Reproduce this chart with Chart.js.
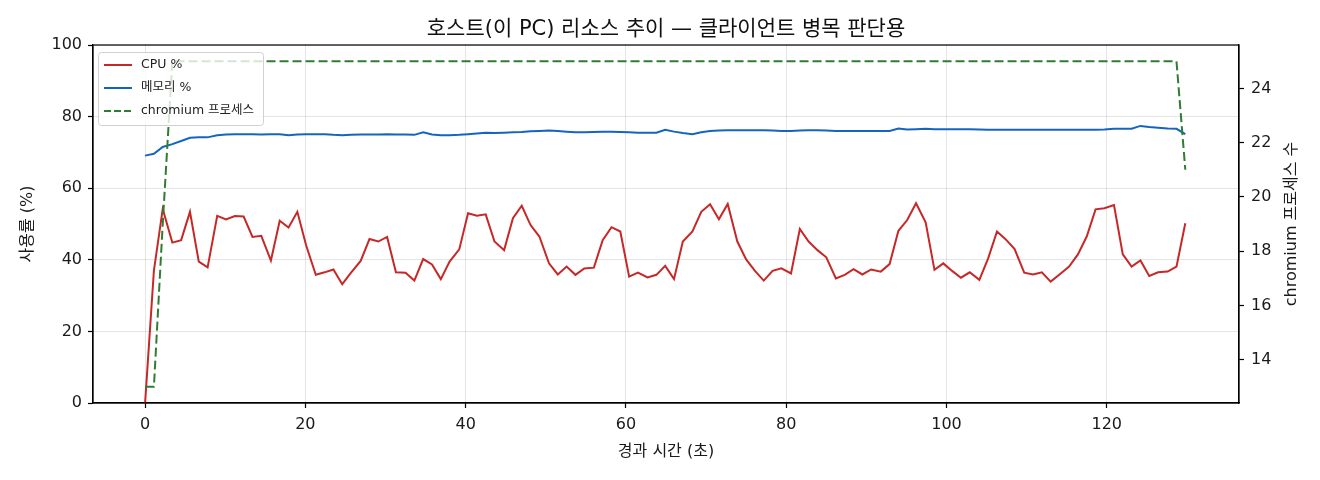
<!DOCTYPE html>
<html><head><meta charset="utf-8">
<script src="https://cdn.jsdelivr.net/npm/chart.js@4.4.1/dist/chart.umd.min.js"></script>
<style>html,body{margin:0;padding:0;background:#fff}#wrap{width:1320px;height:480px}</style>
</head><body><div id="wrap"><canvas id="c" width="1320" height="480"></canvas></div>
<script>
const elapsed = [0.0,1.1,2.2,3.4,4.5,5.6,6.7,7.8,9.0,10.1,11.2,12.3,13.4,14.5,15.7,16.8,17.9,19.0,20.1,21.3,22.4,23.5,24.6,25.7,26.9,28.0,29.1,30.2,31.3,32.5,33.6,34.7,35.8,36.9,38.0,39.2,40.3,41.4,42.5,43.6,44.8,45.9,47.0,48.1,49.2,50.4,51.5,52.6,53.7,54.8,56.0,57.1,58.2,59.3,60.4,61.5,62.7,63.8,64.9,66.0,67.1,68.3,69.4,70.5,71.6,72.7,73.9,75.0,76.1,77.2,78.3,79.4,80.6,81.7,82.8,83.9,85.0,86.2,87.3,88.4,89.5,90.6,91.8,92.9,94.0,95.1,96.2,97.4,98.5,99.6,100.7,101.8,102.9,104.1,105.2,106.3,107.4,108.5,109.7,110.8,111.9,113.0,114.1,115.3,116.4,117.5,118.6,119.7,120.9,122.0,123.1,124.2,125.3,126.4,127.6,128.7,129.8];
const cpuPct = [0,37,54.2,44.8,45.5,53.4,39.5,37.9,52.3,51.3,52.2,52.1,46.4,46.7,39.8,50.9,49.0,53.4,44.0,35.8,36.5,37.3,33.2,36.4,39.7,45.8,45.1,46.4,36.5,36.4,34.2,40.2,38.7,34.6,39.5,42.9,53.0,52.3,52.7,45.1,42.7,51.6,55.1,49.7,46.5,39.0,35.9,38.1,35.8,37.6,37.8,45.5,49.1,47.9,35.3,36.4,35.1,35.8,38.3,34.6,45.1,47.9,53.4,55.5,51.3,55.6,45.1,40.1,36.9,34.2,36.9,37.6,36.2,48.6,45.1,42.7,40.7,34.8,35.8,37.4,35.9,37.3,36.7,38.8,48.1,51.1,55.8,50.5,37.2,39.0,36.9,35.0,36.5,34.4,40.4,47.9,45.7,43.0,36.4,35.9,36.5,33.9,35.9,38.1,41.5,46.5,54.1,54.4,55.3,41.5,38.1,39.8,35.5,36.5,36.7,38.1,50.2];
const memPct = [69.1,69.6,71.5,72.3,73.2,74.1,74.2,74.2,74.8,75.0,75.1,75.1,75.1,75.0,75.05,75.05,74.8,75.0,75.1,75.1,75.1,74.9,74.8,74.9,75.0,75.0,75.0,75.1,75.0,75.0,74.9,75.6,75.0,74.8,74.8,74.9,75.1,75.3,75.5,75.4,75.5,75.6,75.7,75.9,76.0,76.1,76.0,75.8,75.6,75.6,75.7,75.8,75.8,75.7,75.6,75.5,75.5,75.5,76.3,75.8,75.4,75.1,75.6,76.0,76.1,76.2,76.2,76.2,76.2,76.2,76.1,76.0,76.0,76.1,76.2,76.2,76.1,76.0,76.0,76.0,76.0,76.0,76.0,76.0,76.7,76.4,76.5,76.6,76.5,76.5,76.5,76.5,76.5,76.4,76.3,76.3,76.3,76.3,76.3,76.3,76.3,76.3,76.3,76.3,76.3,76.3,76.3,76.4,76.6,76.6,76.6,77.4,77.1,76.9,76.7,76.6,75.1];
const chromiumCount = [13,13,19,25,25,25,25,25,25,25,25,25,25,25,25,25,25,25,25,25,25,25,25,25,25,25,25,25,25,25,25,25,25,25,25,25,25,25,25,25,25,25,25,25,25,25,25,25,25,25,25,25,25,25,25,25,25,25,25,25,25,25,25,25,25,25,25,25,25,25,25,25,25,25,25,25,25,25,25,25,25,25,25,25,25,25,25,25,25,25,25,25,25,25,25,25,25,25,25,25,25,25,25,25,25,25,25,25,25,25,25,25,25,25,25,25,21];
const xTicks = [0,20,40,60,80,100,120];
const yTicks = [0,20,40,60,80,100];
const y2Ticks = [14,16,18,20,22,24];
const seriesNames = ['CPU %','메모리 %','chromium 프로세스'];
const titleText = '호스트(이 PC) 리소스 추이 — 클라이언트 병목 판단용';
const xTitle = '경과 시간 (초)';
const yTitle = '사용률 (%)';
const y2Title = 'chromium 프로세스 수';

const FONT = "'DejaVu Sans', 'Noto Sans CJK KR', sans-serif";
const colors = ['#c62828','#1565c0','#2e7d32'];
const pts = arr => arr.map((v,i)=>({x:elapsed[i], y:v}));

const framePlugin = {
  id:'frame',
  afterDraw(chart){
    const {ctx, chartArea:a} = chart;
    ctx.save();
    ctx.strokeStyle='#000'; ctx.lineWidth=1.2;
    ctx.strokeRect(a.left, a.top, a.right-a.left, a.bottom-a.top);
    // title
    ctx.fillStyle='#111'; ctx.font='21px '+FONT;
    ctx.textAlign='center'; ctx.textBaseline='middle';
    ctx.fillText(titleText, (a.left+a.right)/2, 30);
    // right axis title (reads bottom to top)
    ctx.save();
    ctx.translate(1292, (a.top+a.bottom)/2);
    ctx.rotate(-Math.PI/2);
    ctx.font='16px '+FONT; ctx.fillStyle='#1a1a1a';
    ctx.fillText(y2Title, 0, 0);
    ctx.restore();
    // legend
    const lx=a.left+5, ly=a.top+7, lw=165, lh=73;
    ctx.fillStyle='rgba(255,255,255,0.8)';
    ctx.strokeStyle='#d0d0d0'; ctx.lineWidth=1;
    ctx.beginPath();
    if (ctx.roundRect) ctx.roundRect(lx+0.5, ly+0.5, lw, lh, 3); else ctx.rect(lx+0.5, ly+0.5, lw, lh);
    ctx.fill(); ctx.stroke();
    ctx.font='12.5px '+FONT; ctx.textAlign='left'; ctx.textBaseline='middle';
    for(let i=0;i<3;i++){
      const yy = ly+13+i*23;
      ctx.strokeStyle=colors[i]; ctx.lineWidth=2;
      ctx.setLineDash(i===2?[7,3]:[]);
      ctx.beginPath(); ctx.moveTo(lx+6, yy); ctx.lineTo(lx+34, yy); ctx.stroke();
      ctx.setLineDash([]);
      ctx.fillStyle='#222';
      ctx.fillText(seriesNames[i], lx+43, yy);
    }
    ctx.restore();
  }
};

const tickFont = {family:FONT, size:16};
const gridCommon = {color:'rgba(0,0,0,0.1)', lineWidth:1, tickLength:5, tickColor:'#000', tickWidth:1.2};
new Chart(document.getElementById('c'), {
  type:'line',
  data:{datasets:[
    {label:seriesNames[2], data:pts(chromiumCount), yAxisID:'y2', borderColor:colors[2], borderWidth:2, borderDash:[9,4], pointRadius:0, order:0, tension:0},
    {label:seriesNames[0], data:pts(cpuPct), yAxisID:'y', borderColor:colors[0], borderWidth:2, pointRadius:0, order:1, tension:0},
    {label:seriesNames[1], data:pts(memPct), yAxisID:'y', borderColor:colors[1], borderWidth:2, pointRadius:0, order:2, tension:0}
  ]},
  options:{
    responsive:false, animation:false, devicePixelRatio:1,
    layout:{padding:{top:45,left:0,right:0,bottom:0}},
    plugins:{legend:{display:false}, title:{display:false}, tooltip:{enabled:false}},
    scales:{
      x:{type:'linear', position:'bottom', min:-6.5, max:136.5,
        afterBuildTicks(s){ s.ticks = xTicks.map(v=>({value:v})); },
        afterFit(s){ s.height = 77; },
        grid:gridCommon, border:{display:true,color:'#000',width:1.2},
        ticks:{font:tickFont, color:'#1a1a1a', padding:7, maxRotation:0},
        title:{display:true, text:xTitle, font:{family:FONT,size:16}, color:'#1a1a1a', padding:{top:0,bottom:19}}
      },
      y:{type:'linear', position:'left', min:0, max:100,
        afterBuildTicks(s){ s.ticks = yTicks.map(v=>({value:v})); },
        afterFit(s){ s.width = 93; },
        grid:gridCommon, border:{display:true,color:'#000',width:1.2},
        ticks:{font:tickFont, color:'#1a1a1a', padding:6},
        title:{display:true, text:yTitle, font:{family:FONT,size:16}, color:'#1a1a1a', padding:{top:18,bottom:0}}
      },
      y2:{type:'linear', position:'right', min:12.4, max:25.6,
        afterBuildTicks(s){ s.ticks = y2Ticks.map(v=>({value:v})); },
        afterFit(s){ s.width = 81; },
        grid:{drawOnChartArea:false, tickLength:5, tickColor:'#000', tickWidth:1.2}, border:{display:true,color:'#000',width:1.2},
        ticks:{font:tickFont, color:'#1a1a1a', padding:7},
        title:{display:false}
      }
    }
  },
  plugins:[framePlugin]
});
</script></body></html>
